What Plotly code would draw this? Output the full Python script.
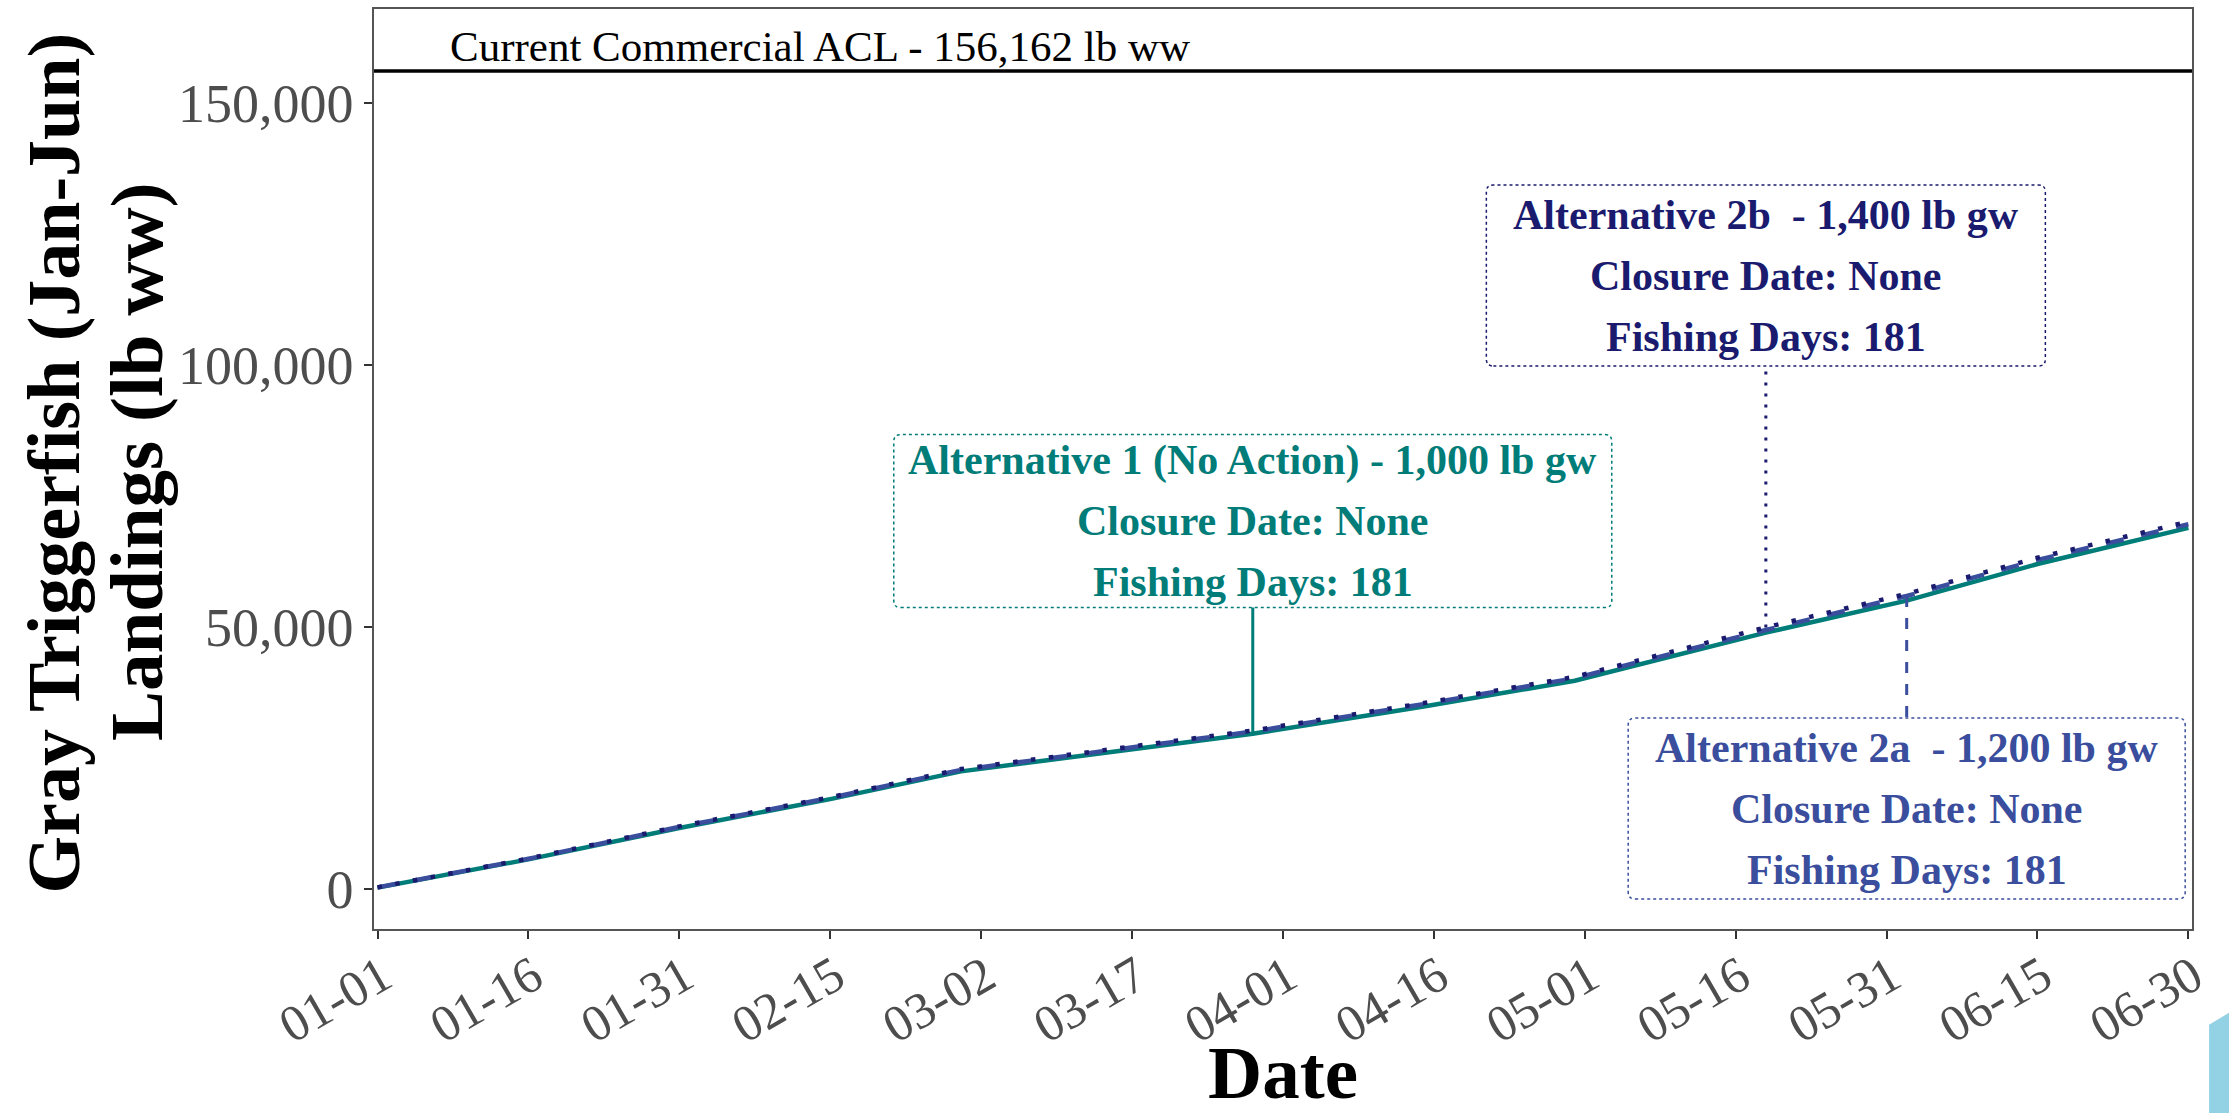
import plotly.graph_objects as go

# ---------------- data ----------------
dates = ["2023-01-01", "2023-01-16", "2023-01-31", "2023-02-15", "2023-02-28",
         "2023-03-15", "2023-03-29", "2023-04-15", "2023-04-30", "2023-05-19",
         "2023-06-02", "2023-06-15", "2023-06-30"]
alt1 = [200, 5600, 11600, 17100, 22400, 26100, 29600, 34800, 39700, 48900, 55000, 62000, 68900]
alt2a = [250, 5700, 11800, 17350, 22700, 26500, 30000, 35250, 40200, 49400, 55900, 62800, 69600]
alt2b = [250, 5750, 11900, 17450, 22850, 26650, 30200, 35450, 40450, 49900, 56300, 63200, 70100]

acl_value = 156162
acl_label = "Current Commercial ACL - 156,162 lb ww"
acl_label_date = "2023-02-14"
acl_label_y = 160000

label_titles = ["Alternative 1 (No Action) - 1,000 lb gw",
                "Alternative 2a\u00a0 - 1,200 lb gw",
                "Alternative 2b\u00a0 - 1,400 lb gw"]
closure_dates = ["None", "None", "None"]
fishing_days = [181, 181, 181]
label_dates = ["2023-03-29", "2023-06-02", "2023-05-19"]
label_y = [70200, 15300, 117100]
segment_from = [29600, 55900, 49900]
segment_to = [53800, 32600, 100000]

x_tickvals = ["2023-01-01", "2023-01-16", "2023-01-31", "2023-02-15", "2023-03-02",
              "2023-03-17", "2023-04-01", "2023-04-16", "2023-05-01", "2023-05-16",
              "2023-05-31", "2023-06-15", "2023-06-30"]
x_ticktext = ["01-01", "01-16", "01-31", "02-15", "03-02", "03-17", "04-01",
              "04-16", "05-01", "05-16", "05-31", "06-15", "06-30"]
y_tickvals = [0, 50000, 100000, 150000]
y_ticktext = ["0", "50,000", "100,000", "150,000"]

# ---------------- styles ----------------
FONT = "Liberation Serif, Times New Roman, serif"
colors = ["#007C79", "#3A4E9D", "#1A1A6E"]
line_dash = ["solid", "18px,18px", "4.5px,13.5px"]
seg_dash = ["solid", "11px,11px", "3px,8px"]
box_w = [718, 557, 559]
box_h = [173, 181, 181]

fig = go.Figure()

series = [alt1, alt2a, alt2b]
for i, ys in enumerate(series):
    fig.add_trace(go.Scatter(x=dates, y=ys, mode="lines",
                             line=dict(color=colors[i], width=4.5, dash=line_dash[i]),
                             showlegend=False, hoverinfo="skip"))

# annotation segments
for i in range(3):
    fig.add_trace(go.Scatter(x=[label_dates[i], label_dates[i]],
                             y=[segment_from[i], segment_to[i]], mode="lines",
                             line=dict(color=colors[i], width=3, dash=seg_dash[i]),
                             showlegend=False, hoverinfo="skip"))

shapes = []
# ACL line
shapes.append(dict(type="line", xref="paper", x0=0, x1=1, yref="y",
                   y0=acl_value, y1=acl_value, line=dict(color="black", width=3.5)))


def rounded(W, H, r):
    return (f"M {-W + r},{-H} L {W - r},{-H} Q {W},{-H} {W},{-H + r} "
            f"L {W},{H - r} Q {W},{H} {W - r},{H} L {-W + r},{H} "
            f"Q {-W},{H} {-W},{H - r} L {-W},{-H + r} Q {-W},{-H} {-W + r},{-H} Z")


annotations = []
for i in range(3):
    shapes.append(dict(type="path", xref="x", yref="y",
                       xsizemode="pixel", ysizemode="pixel",
                       xanchor=label_dates[i], yanchor=label_y[i],
                       path=rounded(box_w[i] / 2, box_h[i] / 2, 7),
                       fillcolor="white", layer="above",
                       line=dict(color=colors[i], width=1.5, dash="dot")))
    lines = [label_titles[i], f"Closure Date: {closure_dates[i]}",
             f"Fishing Days: {fishing_days[i]}"]
    for j, t in enumerate(lines):
        annotations.append(dict(x=label_dates[i], y=label_y[i], xref="x", yref="y",
                                text=f"<b>{t}</b>", showarrow=False,
                                xanchor="center", yanchor="middle",
                                yshift=61 * (1 - j),
                                font=dict(family=FONT, size=42, color=colors[i])))

annotations.append(dict(x=acl_label_date, y=acl_label_y, xref="x", yref="y",
                        text=acl_label, showarrow=False, xanchor="center",
                        yanchor="middle", yshift=4,
                        font=dict(family=FONT, size=43, color="black")))

# axis titles
annotations.append(dict(x=-0.176, y=0.506, xref="paper", yref="paper",
                        text="<b>Gray Triggerfish (Jan-Jun)</b>", textangle=-90,
                        showarrow=False, xanchor="center", yanchor="middle",
                        font=dict(family=FONT, size=74, color="black")))
annotations.append(dict(x=-0.1304, y=0.5087, xref="paper", yref="paper",
                        text="<b>Landings (lb ww)</b>", textangle=-90,
                        showarrow=False, xanchor="center", yanchor="middle",
                        font=dict(family=FONT, size=75, color="black")))
annotations.append(dict(x=0.5, y=-0.167, xref="paper", yref="paper",
                        text="<b>Date</b>", showarrow=False,
                        xanchor="center", yanchor="middle", yshift=10,
                        font=dict(family=FONT, size=75, color="black")))

# decorative light-blue corner
shapes.append(dict(type="path", xref="paper", yref="paper",
                   path="M 1.0094,-0.104 L 1.0204,-0.091 L 1.0204,-0.2 L 1.0094,-0.2 Z",
                   fillcolor="#93D1E5", line=dict(width=0), layer="above"))

fig.update_layout(
    width=2229, height=1113, autosize=False,
    margin=dict(l=374, r=37, t=7, b=184),
    paper_bgcolor="white", plot_bgcolor="white",
    shapes=shapes, annotations=annotations,
    font=dict(family=FONT),
    xaxis=dict(type="date",
               range=["2022-12-31 15:36", "2023-06-30 08:38"],
               tickmode="array", tickvals=x_tickvals, ticktext=x_ticktext,
               tickangle=-30, tickfont=dict(family=FONT, size=51, color="#4D4D4D"),
               ticklabelstandoff=-12, ticklabelshift=5,
               ticks="outside", ticklen=8, tickwidth=1.5, tickcolor="#333333",
               showline=True, linecolor="#555555", linewidth=1.5, mirror=True,
               showgrid=False, zeroline=False),
    yaxis=dict(range=[-7700, 168000],
               tickmode="array", tickvals=y_tickvals, ticktext=y_ticktext,
               tickfont=dict(family=FONT, size=54, color="#4D4D4D"),
               ticks="outside", ticklen=8, tickwidth=1.5, tickcolor="#333333",
               showline=True, linecolor="#555555", linewidth=1.5, mirror=True,
               showgrid=False, zeroline=False),
)

fig.write_html("out.html", config={"displayModeBar": False},
               post_script="document.body.style.margin='0';document.body.style.overflow='hidden';")
